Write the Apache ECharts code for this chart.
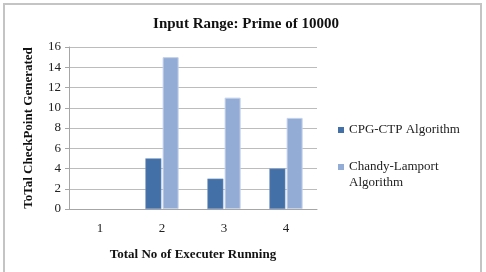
<!DOCTYPE html>
<html>
<head>
<meta charset="utf-8">
<script src="https://cdn.jsdelivr.net/npm/echarts@6/dist/echarts.min.js"></script>
<style>
  html, body { margin: 0; padding: 0; background: #fff; }
  #frame { position: absolute; left: 3px; top: 3px; width: 479px; height: 280px;
           border: 2px solid #c4c4c4; border-bottom: none; box-sizing: border-box; }
  #chart { position: absolute; left: 0; top: 0; width: 486px; height: 272px; }
</style>
</head>
<body>
<div id="frame"></div>
<div id="chart"></div>
<script>
const categories = ['1', '2', '3', '4'];
const cpgCtp = [0, 5, 3, 4];
const chandyLamport = [0, 15, 11, 9];
const seriesNames = ['CPG-CTP Algorithm', 'Chandy-Lamport\nAlgorithm'];

const font = 'Liberation Serif, Times New Roman, serif';

// zero values: no bar, no border line
const toData = vals => vals.map(v => v === 0 ? { value: v, itemStyle: { borderWidth: 0 } } : v);

const chart = echarts.init(document.getElementById('chart'));
chart.setOption({
    animation: false,
    title: {
        text: 'Input Range: Prime of 10000',
        left: 241, top: 12, textAlign: 'center',
        textStyle: { fontFamily: font, fontSize: 15, fontWeight: 'bold', color: '#111' }
    },
    legend: {
        orient: 'vertical', left: 333, top: 117,
        itemWidth: 6, itemHeight: 6, itemGap: 5,
        icon: 'rect',
        itemStyle: { borderWidth: 0 },
        // blank first line keeps the marker beside the first line of a two-line name
        formatter: name => name.indexOf('\n') >= 0 ? ' \n' + name : name,
        textStyle: { fontFamily: font, fontSize: 13, color: '#222', lineHeight: 16 },
        data: seriesNames
    },
    grid: { left: 69, right: 169, top: 47, bottom: 63 },
    xAxis: {
        type: 'category', data: categories,
        name: 'Total No of Executer Running', nameLocation: 'middle', nameGap: 39,
        nameTextStyle: { fontFamily: font, fontSize: 13, fontWeight: 'bold', color: '#111' },
        axisLine: { lineStyle: { color: '#a6a6a6' } },
        axisTick: { show: false },
        axisLabel: { fontFamily: font, fontSize: 13, color: '#222', margin: 13 }
    },
    yAxis: {
        type: 'value', min: 0, max: 16, interval: 2,
        name: 'ToTal CheckPoint Generated', nameLocation: 'middle', nameGap: 34,
        nameTextStyle: { fontFamily: font, fontSize: 13, fontWeight: 'bold', color: '#111' },
        axisLine: { show: true, lineStyle: { color: '#a6a6a6' } },
        axisTick: { show: true, length: 4, lineStyle: { color: '#a6a6a6' } },
        axisLabel: { fontFamily: font, fontSize: 13, color: '#222', margin: 8 },
        splitLine: { lineStyle: { color: '#bcbcbc' } }
    },
    series: [
        {
            name: seriesNames[0], type: 'bar', data: toData(cpgCtp),
            barWidth: 16, barGap: '8%',
            itemStyle: { color: '#4470a8', borderColor: '#7f9bc6', borderWidth: 0.5 }
        },
        {
            name: seriesNames[1], type: 'bar', data: toData(chandyLamport),
            barWidth: 16,
            itemStyle: { color: '#93acd6', borderColor: '#c3d1ea', borderWidth: 1 }
        }
    ]
});
</script>
</body>
</html>
